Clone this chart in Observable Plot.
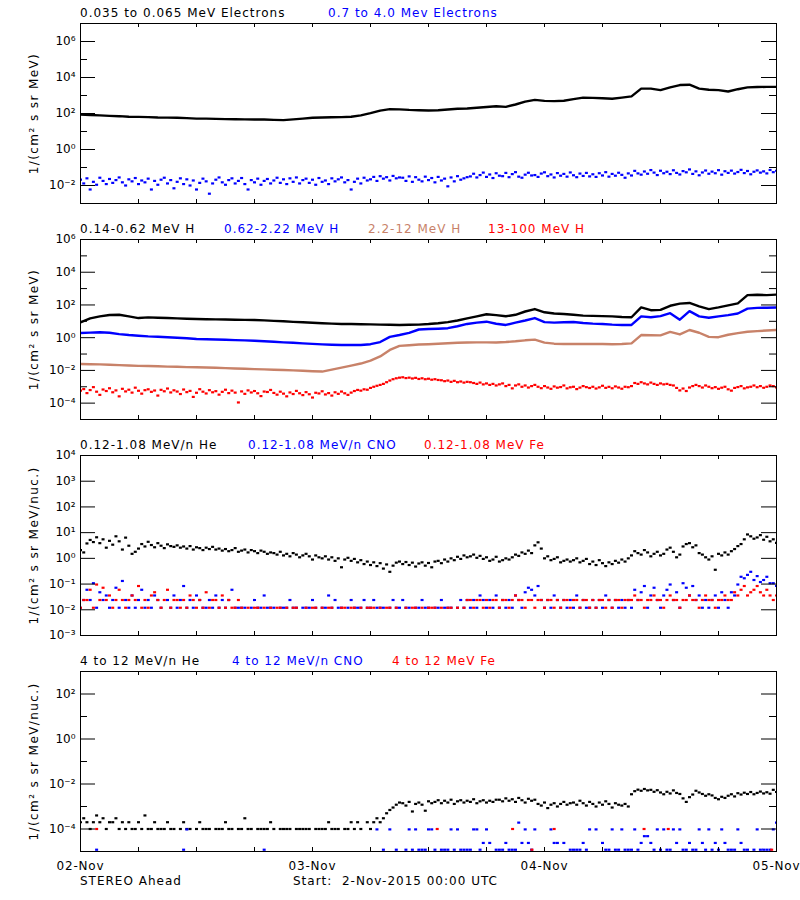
<!DOCTYPE html>
<html>
<head>
<meta charset="utf-8">
<script src="https://cdn.jsdelivr.net/npm/d3@7"></script>
<script src="https://cdn.jsdelivr.net/npm/@observablehq/plot@0.6"></script>
<style>
  body { margin: 0; background: #fff; }
  #wrap { position: relative; width: 800px; height: 900px; background: #fff; overflow: hidden; font-family: "DejaVu Sans", sans-serif; }
  .panel { position: absolute; left: 0; }
  .ttl { position: absolute; font-size: 12px; letter-spacing: 1px; white-space: nowrap; line-height: 12px; }
</style>
</head>
<body>
<div id="wrap"></div>
<script>
// ---------- time axis ----------
const dayLabels = ["02-Nov", "03-Nov", "04-Nov", "05-Nov"];
const dayTicks = [0, 24, 48, 72];          // hours since 2-Nov-2015 00:00 UTC
const sixHourTicks = [6, 12, 18, 24, 30, 36, 42, 48, 54, 60, 66];
const hourly = d3.range(73);               // hourly samples
const every20min = d3.range(217).map(i => i / 3); // 20-minute samples

// ---------- panel 1: electrons ----------
const electronLow = [87,83,79,74,71,66,65,63,60,59,58,55,52,52,50,49,48,47,46,46,44,43,47,52,58,60,62,63,66,79,105,145,174,170,158,151,148,151,166,182,191,209,229,251,234,316,457,575,501,490,513,631,759,741,708,661,759,891,2400,2400,2000,2820,3800,3980,2400,2090,2000,1660,2240,2820,2950,3020,3020];
const electronHigh = [
0.021,0.013,0.025,0.006,0.016,0.011,0.027,0.018,0.012,0.023,
0.014,0.02,0.028,0.015,0.01,0.022,0.017,0.026,0.012,0.019,
0.015,0.024,0.006,0.018,0.011,0.021,0.027,0.013,0.02,0.007,
0.016,0.025,0.012,0.022,0.01,0.019,0.006,0.014,0.024,0.017,
0.0035,0.013,0.021,0.028,0.015,0.011,0.02,0.025,0.013,0.018,
0.026,0.012,0.006,0.02,0.015,0.024,0.011,0.018,0.023,0.013,
0.019,0.027,0.014,0.022,0.012,0.025,0.016,0.028,0.013,0.02,
0.024,0.014,0.021,0.011,0.026,0.016,0.019,0.012,0.025,0.017,
0.022,0.028,0.015,0.02,0.006,0.016,0.024,0.013,0.027,0.019,
0.022,0.03,0.018,0.033,0.024,0.029,0.019,0.034,0.025,0.028,
0.027,0.018,0.032,0.016,0.029,0.021,0.017,0.031,0.02,0.026,
0.015,0.03,0.019,0.024,0.009,0.028,0.017,0.033,0.021,0.025,0.029,
0.032,0.045,0.028,0.038,0.052,0.03,0.041,0.026,0.048,0.035,
0.033,0.05,0.029,0.043,0.055,0.031,0.027,0.04,0.051,0.036,
0.038,0.03,0.046,0.054,0.033,0.041,0.028,0.049,0.035,0.044,
0.031,0.053,0.037,0.029,0.046,0.034,0.05,0.032,0.042,0.03,
0.048,0.036,0.055,0.031,0.044,0.035,0.051,0.039,0.027,0.047,
0.036,
0.065,0.047,0.04,0.06,0.045,0.072,0.052,0.038,0.066,0.048,
0.058,0.043,0.07,0.05,0.041,0.063,0.054,0.078,0.044,0.061,
0.037,0.053,0.068,0.045,0.059,0.048,0.071,0.04,0.062,0.05,
0.067,0.046,0.056,0.074,0.049,0.064,0.042,0.058,0.069,0.052,
0.061,0.047,0.073,0.055,0.066];

// ---------- panel 2: protons ----------
const protonLow = [8.7,15.1,20,24.5,25,20,15.8,17.4,16.6,15.8,15.1,14.5,13.8,13.5,13.2,12.9,12.6,12.3,12.0,11.5,10.7,10,9.3,8.7,8.1,7.6,7.2,6.9,6.8,6.6,6.5,6.3,6.2,6.0,6.2,6.3,6.8,7.6,8.9,11.2,15.1,20,26.9,24,20.4,25.1,39.8,56,35.5,30.2,28.2,25.1,22.4,21.4,20.9,20,18.2,17.8,70.8,47.9,50.1,89,120,132,83,56,71,95,126,398,417,398,427];
const protonMid = [1.95,2.04,2.14,2.0,1.66,1.45,1.32,1.2,1.15,1.07,1.0,0.93,0.83,0.81,0.78,0.74,0.71,0.68,0.65,0.6,0.56,0.52,0.49,0.45,0.42,0.39,0.37,0.36,0.355,0.355,0.4,0.54,1.12,1.45,1.95,3.16,3.39,3.55,3.8,5.0,6.9,8.3,9.5,7.1,6.0,8.3,11.2,15.8,8.9,8.3,8.7,9.1,7.9,7.2,6.9,6.3,6.0,6.0,20,17.8,20.9,31.6,12.6,41.7,20,16.6,20,24,30.2,60,66,67.6,70.8];
const protonHigh = [0.0245,0.024,0.0234,0.0224,0.0209,0.02,0.019,0.0186,0.0178,0.017,0.0166,0.0158,0.0155,0.0151,0.0145,0.0138,0.0132,0.0126,0.012,0.0115,0.011,0.0105,0.01,0.0095,0.0089,0.0085,0.0112,0.0148,0.0195,0.0263,0.04,0.071,0.178,0.316,0.347,0.38,0.4,0.43,0.46,0.49,0.51,0.52,0.52,0.51,0.54,0.6,0.69,0.76,0.5,0.43,0.41,0.42,0.41,0.42,0.41,0.4,0.41,0.45,1.45,1.41,1.38,2.24,1.58,2.95,2.0,1.12,1.07,1.51,1.9,2.29,2.51,2.75,2.95];
const protonTop = [
5.8e-4,7.2e-4,4.1e-4,6.3e-4,9.5e-4,5.0e-4,3.2e-4,6.8e-4,5.5e-4,8.1e-4,
4.6e-4,6.0e-4,2.6e-4,7.5e-4,5.2e-4,6.6e-4,4.4e-4,8.8e-4,5.7e-4,3.8e-4,
6.2e-4,7.0e-4,4.9e-4,5.9e-4,2.9e-4,6.5e-4,5.3e-4,7.8e-4,4.5e-4,6.1e-4,
5.1e-4,3.6e-4,6.8e-4,4.7e-4,5.6e-4,2.4e-4,4.3e-4,7.1e-4,5.0e-4,3.9e-4,
6.2e-4,4.6e-4,5.4e-4,3.3e-4,4.9e-4,6.6e-4,4.1e-4,5.8e-4,4.4e-4,1.1e-4,
5.2e-4,3.7e-4,6.0e-4,4.5e-4,5.5e-4,4.0e-4,2.7e-4,5.1e-4,4.8e-4,6.4e-4,
4.2e-4,3.3e-4,5.0e-4,3.8e-4,2.6e-4,4.5e-4,3.6e-4,5.6e-4,4.0e-4,3.1e-4,
4.7e-4,3.5e-4,2.2e-4,4.3e-4,3.9e-4,5.3e-4,3.4e-4,4.1e-4,2.9e-4,4.6e-4,
3.7e-4,5.1e-4,4.0e-4,3.2e-4,4.4e-4,
5.5e-4,6.4e-4,5.8e-4,7.0e-4,6.6e-4,
8.5e-4,1.0e-3,1.15e-3,1.3e-3,1.5e-3,1.9e-3,2.4e-3,2.9e-3,3.3e-3,3.6e-3,
3.8e-3,3.4e-3,3.6e-3,3.2e-3,3.5e-3,3.0e-3,3.3e-3,2.9e-3,3.1e-3,2.7e-3,2.9e-3,2.6e-3,
2.5e-3,2.2e-3,2.4e-3,2.0e-3,2.3e-3,1.9e-3,2.1e-3,1.8e-3,2.0e-3,1.9e-3,
1.7e-3,1.5e-3,1.8e-3,1.4e-3,1.6e-3,1.3e-3,1.5e-3,1.2e-3,1.4e-3,1.6e-3,
1.1e-3,1.3e-3,0.8e-3,1.2e-3,1.4e-3,1.0e-3,1.2e-3,0.9e-3,1.1e-3,1.3e-3,
1.0e-3,8.2e-4,1.1e-3,9.0e-4,7.5e-4,1.05e-3,8.8e-4,9.6e-4,1.2e-3,8.0e-4,
9.3e-4,1.0e-3,7.2e-4,8.9e-4,1.1e-3,9.5e-4,8.4e-4,1.0e-3,7.8e-4,9.2e-4,
1.15e-3,8.6e-4,9.9e-4,8.1e-4,1.05e-3,9.0e-4,7.6e-4,1.0e-3,9.4e-4,1.1e-3,
1.7e-3,1.5e-3,1.9e-3,1.6e-3,1.4e-3,1.8e-3,1.5e-3,1.3e-3,1.6e-3,1.4e-3,1.5e-3,1.3e-3,1.2e-3,
8.5e-4,6.0e-4,7.8e-4,5.5e-4,9.0e-4,1.1e-3,
1.3e-3,1.1e-3,9.0e-4,1.2e-3,1.0e-3,8.2e-4,9.5e-4,7.5e-4,8.8e-4,1.0e-3,
7.0e-4,5.8e-4,8.5e-4,9.6e-4,1.1e-3,8.0e-4,9.2e-4,1.0e-3,1.2e-3,9.4e-4,
1.1e-3,8.7e-4,1.0e-3,1.2e-3,1.1e-3,9.0e-4];

// ---------- panel 3: 0.12-1.08 MeV/n ions ----------
const heliumLow = [
2.1,1.7,3.8,5.2,4.3,6.6,
3.9,5.5,2.6,4.8,3.4,7.2,4.6,2.2,6.4,
3.1,1.5,1.8,
2.4,3.6,2.9,4.4,3.3,2.7,3.9,3.1,2.5,3.5,3.0,2.8,
3.2,2.6,2.9,2.4,3.0,2.2,2.7,2.5,2.1,2.6,2.3,2.8,2.2,2.4,2.0,
2.3,1.9,2.1,2.5,1.8,2.0,2.2,1.7,2.1,1.9,1.6,2.0,1.8,1.5,1.7,
1.6,1.4,1.8,1.3,1.5,1.2,1.6,1.4,1.1,1.3,1.5,1.2,0.9,1.3,1.1,
1.0,1.2,0.9,1.1,0.8,1.0,0.45,0.9,1.05,0.8,0.95,0.7,0.85,0.6,0.75,
0.55,0.7,0.5,0.65,0.4,0.58,0.3,0.52,0.68,0.75,
0.6,0.72,0.55,0.68,0.48,0.63,0.7,0.52,0.66,0.45,0.75,
0.8,0.65,0.9,0.75,1.0,0.85,1.15,0.95,1.3,1.1,1.2,1.4,1.05,
1.25,0.95,1.1,0.8,0.9,1.15,0.75,0.85,1.0,0.9,
1.1,1.4,1.25,1.7,1.5,2.0,1.6,3.2,4.2,2.4,
1.0,1.2,0.85,0.95,1.1,0.7,0.8,0.9,0.75,
0.85,1.0,0.7,0.8,0.95,0.6,0.75,0.55,0.85,0.65,0.5,0.7,0.6,0.8,0.68,0.9,0.75,1.0,
1.3,1.9,1.6,1.4,2.1,1.7,1.2,1.5,1.8,1.3,
1.5,2.2,2.6,1.8,1.1,1.4,2.9,3.6,3.9,2.7,3.2,
1.6,1.4,1.1,0.9,1.2,0.36,1.5,1.3,1.7,1.4,
1.9,2.3,3.0,3.6,5.5,8.5,7.2,5.8,6.5,8.0,5.3,6.9,4.6,5.5,4.0];
// counts per 20-minute sample (base-36 digits), one count = 0.012
const cnoLowCounts = "1252914231261b21312512132102131271213211213121251111012113111011121101112101131211012111211211101211211011211011211101212121321213121213214653721213212121312112121321212121524713621358241963723121231421438gejpchacg997";
const feLowCounts  = "1225182623125212327121342125122121321214122131211210101101010110101100101101011001101101011101011010010110101110101101012212212122122123221221221221212212212212122121221222322122322123221223221232212232243573457435323";
const lowCountUnit = 0.012;

// ---------- panel 4: 4-12 MeV/n ions ----------
const heliumHigh = [
2e-4,3e-4,2e-4,1e-4,2e-4,4e-4,2e-4,3e-4,1e-4,2e-4,2e-4,3e-4,1e-4,2e-4,
1e-4,2e-4,1e-4,1e-4,2e-4,1e-4,4e-4,1e-4,1e-4,2e-4,1e-4,1e-4,1e-4,2e-4,1e-4,1e-4,0,1e-4,2e-4,
1e-4,1e-4,0,1e-4,2e-4,1e-4,1e-4,1e-4,0,1e-4,
1e-4,1e-4,2e-4,1e-4,1e-4,0,1e-4,1e-4,3e-4,1e-4,
1e-4,0,1e-4,1e-4,1e-4,1e-4,2e-4,1e-4,0,1e-4,
1e-4,1e-4,1e-4,0,1e-4,1e-4,1e-4,1e-4,1e-4,0,
1e-4,1e-4,1e-4,1e-4,2e-4,1e-4,1e-4,1e-4,0,1e-4,
1e-4,2e-4,1e-4,2e-4,1e-4,0,2e-4,1e-4,
2e-4,3e-4,2e-4,3e-4,5e-4,7e-4,9e-4,1.2e-3,1.5e-3,
1.4e-3,1.1e-3,1.6e-3,6e-4,1.3e-3,1.5e-3,1.2e-3,6.5e-4,1.7e-3,1.4e-3,
1.6e-3,1.9e-3,1.4e-3,1.8e-3,1.5e-3,2.0e-3,1.3e-3,1.7e-3,1.9e-3,1.5e-3,
1.8e-3,1.6e-3,2.1e-3,1.4e-3,1.7e-3,1.9e-3,1.5e-3,1.8e-3,1.6e-3,2.0e-3,
2.0e-3,1.7e-3,2.3e-3,1.8e-3,2.1e-3,1.6e-3,2.4e-3,1.9e-3,1.5e-3,2.2e-3,1.8e-3,2.0e-3,
1.3e-3,1.1e-3,1.5e-3,8.5e-4,1.2e-3,1.4e-3,1.0e-3,1.3e-3,1.6e-3,1.2e-3,1.4e-3,
1.5e-3,1.2e-3,1.8e-3,1.4e-3,1.1e-3,1.6e-3,1.3e-3,1.0e-3,1.5e-3,1.2e-3,
1.7e-3,1.3e-3,9e-4,1.4e-3,1.2e-3,1.1e-3,1.3e-3,1.0e-3,
3.5e-3,4.8e-3,5.6e-3,5.0e-3,6.0e-3,5.2e-3,5.5e-3,4.5e-3,5.3e-3,
4.2e-3,3.5e-3,4.5e-3,3.8e-3,5.2e-3,4.0e-3,3.6e-3,
2.3e-3,1.6e-3,2.6e-3,3.4e-3,
5.0e-3,4.2e-3,3.6e-3,3.0e-3,3.5e-3,3.1e-3,2.4e-3,2.1e-3,2.7e-3,2.4e-3,
3.0e-3,3.5e-3,2.8e-3,3.9e-3,3.4e-3,4.1e-3,3.6e-3,4.4e-3,3.5e-3,4.0e-3,4.6e-3,3.8e-3,4.3e-3,3.7e-3,5.5e-3,4.4e-3];
// counts per 20-minute sample (base-36 digits), one count = 1.2e-5
const cnoHighCounts = "00000100000000000000000000000000180000000000000000000000010000000000000000000000000000000000801080100181811188101118181111881282011" + "12111g2821800008220201111218080211811811181244218181182811211821812182111821101811118g81";
const highCountUnit = 1.2e-5;
const feHighHours = [1.67, 36.9, 44.7, 46.7, 49.0, 58.3, 60.8, 71.5];
const feHighValues = [1e-4, 1e-4, 1e-4, 1.2e-5, 1e-4, 1e-4, 1e-4, 1.2e-5];

// ---------- helpers ----------
const BLACK = "#000000", BLUE = "#0000ff", BROWN = "rgb(200,130,105)", RED = "#ff0000";
const rows = (times, values) => times.map((t, i) => ({t, v: values[i]})).filter(d => d.v > 0);
const fromCounts = (str, unit) => [...str].map(c => parseInt(c, 36) * unit);
const supMap = {"-": "\u207B", "0": "\u2070", "1": "\u00B9", "2": "\u00B2", "3": "\u00B3", "4": "\u2074", "5": "\u2075", "6": "\u2076", "7": "\u2077", "8": "\u2078", "9": "\u2079"};
const pow10 = d => "10" + [...String(Math.round(Math.log10(d)))].map(c => supMap[c]).join("");
// small rectangular plotting symbol, like the pixel blocks of the original plot
const blockSymbol = {draw(context) { context.rect(-1.5, -1.1, 3, 2.2); }};
const dotMark = (data, color) => Plot.dot(data, {x: "t", y: "v", r: 1.2, symbol: blockSymbol, fill: color, stroke: null, clip: true});
const lineMark = (data, color) => Plot.line(data, {x: "t", y: "v", stroke: color, strokeWidth: 2.4, clip: true});

const wrap = document.getElementById("wrap");
const FRAME_H = 180, FRAME_W = 696;

function panel({top, domain, major, minor, labelled, yTitle, marks, titles, bottom = false}) {
  const mt = 2, mb = bottom ? 48 : 2;
  const svg = Plot.plot({
    width: 800, height: FRAME_H + mt + mb,
    marginLeft: 80, marginRight: 24, marginTop: mt, marginBottom: mb,
    style: {fontFamily: "DejaVu Sans, sans-serif", fontSize: "12px", background: "transparent", color: "#000", overflow: "visible"},
    x: {domain: [0, 72], axis: null},
    y: {type: "log", domain, axis: null},
    marks: [
      ...marks,
      Plot.tickY(major, {y: d => d, insetRight: FRAME_W - 15, stroke: BLACK}),
      Plot.tickY(major, {y: d => d, insetLeft: FRAME_W - 15, stroke: BLACK}),
      Plot.tickY(minor, {y: d => d, insetRight: FRAME_W - 7, stroke: BLACK}),
      Plot.tickY(minor, {y: d => d, insetLeft: FRAME_W - 7, stroke: BLACK}),
      Plot.tickX(sixHourTicks, {x: d => d, insetTop: FRAME_H - 4, stroke: BLACK}),
      Plot.tickX(sixHourTicks, {x: d => d, insetBottom: FRAME_H - 4, stroke: BLACK}),
      Plot.axisY(labelled, {tickSize: 0, tickPadding: 5, tickFormat: pow10, fontSize: 12, label: null}),
      Plot.text([yTitle], {text: d => d, frameAnchor: "left", textAnchor: "middle", dx: -46, rotate: -90, fontSize: 12, fill: BLACK}),
      bottom ? Plot.axisX(dayTicks, {tickSize: 0, tickPadding: 10, tickFormat: d => dayLabels[dayTicks.indexOf(d)], fontSize: 12, label: null}) : null,
      Plot.frame({stroke: BLACK})
    ]
  });
  svg.classList.add("panel");
  svg.style.top = (top - mt) + "px";
  d3.select(svg).selectAll("text").filter(function() { return this.textContent === yTitle; }).style("letter-spacing", "1.4px");
  if (bottom) d3.select(svg).selectAll("text").filter(function() { return dayLabels.includes(this.textContent); }).style("letter-spacing", "0.8px");
  wrap.appendChild(svg);
  for (const [text, left, color] of titles) {
    const s = document.createElement("div");
    s.className = "ttl";
    s.textContent = text;
    s.style.left = left + "px";
    s.style.top = (top - 16) + "px";
    s.style.color = color;
    wrap.appendChild(s);
  }
}

const yTitleE = "1/(cm\u00B2 s sr MeV)";
const yTitleN = "1/(cm\u00B2 s sr MeV/nuc.)";

panel({
  top: 23, domain: [1e-3, 1e7],
  major: [1e-2, 1, 1e2, 1e4, 1e6], minor: [1e-1, 1e1, 1e3, 1e5],
  labelled: [1e-2, 1, 1e2, 1e4, 1e6], yTitle: yTitleE,
  marks: [lineMark(rows(hourly, electronLow), BLACK), dotMark(rows(every20min, electronHigh), BLUE)],
  titles: [["0.035 to 0.065 MeV Electrons", 80, BLACK], ["0.7 to 4.0 Mev Electrons", 328, BLUE]]
});

panel({
  top: 239, domain: [1e-5, 1e6],
  major: [1e-4, 1e-2, 1, 1e2, 1e4], minor: [1e-3, 1e-1, 1e1, 1e3, 1e5],
  labelled: [1e-4, 1e-2, 1, 1e2, 1e4, 1e6], yTitle: yTitleE,
  marks: [
    lineMark(rows(hourly, protonLow), BLACK),
    lineMark(rows(hourly, protonMid), BLUE),
    lineMark(rows(hourly, protonHigh), BROWN),
    dotMark(rows(every20min, protonTop), RED)
  ],
  titles: [["0.14-0.62 MeV H", 80, BLACK], ["0.62-2.22 MeV H", 224, BLUE], ["2.2-12 MeV H", 368, BROWN], ["13-100 MeV H", 488, RED]]
});

panel({
  top: 455, domain: [1e-3, 1e4],
  major: [1e-2, 1e-1, 1, 1e1, 1e2, 1e3], minor: [],
  labelled: [1e-3, 1e-2, 1e-1, 1, 1e1, 1e2, 1e3, 1e4], yTitle: yTitleN,
  marks: [
    dotMark(rows(every20min, heliumLow), BLACK),
    dotMark(rows(every20min, fromCounts(cnoLowCounts, lowCountUnit)), BLUE),
    dotMark(rows(every20min, fromCounts(feLowCounts, lowCountUnit)), RED)
  ],
  titles: [["0.12-1.08 MeV/n He", 80, BLACK], ["0.12-1.08 MeV/n CNO", 248, BLUE], ["0.12-1.08 MeV Fe", 424, RED]]
});

panel({
  top: 671, domain: [1e-5, 1e3], bottom: true,
  major: [1e-4, 1e-2, 1, 1e2], minor: [1e-3, 1e-1, 1e1],
  labelled: [1e-4, 1e-2, 1, 1e2], yTitle: yTitleN,
  marks: [
    dotMark(rows(every20min, heliumHigh), BLACK),
    dotMark(rows(every20min, fromCounts(cnoHighCounts, highCountUnit)), BLUE),
    dotMark(rows(feHighHours, feHighValues), RED)
  ],
  titles: [["4 to 12 MeV/n He", 80, BLACK], ["4 to 12 MeV/n CNO", 232, BLUE], ["4 to 12 MeV Fe", 392, RED]]
});

// footer
for (const [text, left] of [["STEREO Ahead", 80], ["Start:  2-Nov-2015 00:00 UTC", 293]]) {
  const s = document.createElement("div");
  s.className = "ttl";
  s.style.whiteSpace = "pre";
  s.textContent = text;
  s.style.left = left + "px";
  s.style.top = "875px";
  s.style.color = BLACK;
  wrap.appendChild(s);
}
</script>
</body>
</html>
